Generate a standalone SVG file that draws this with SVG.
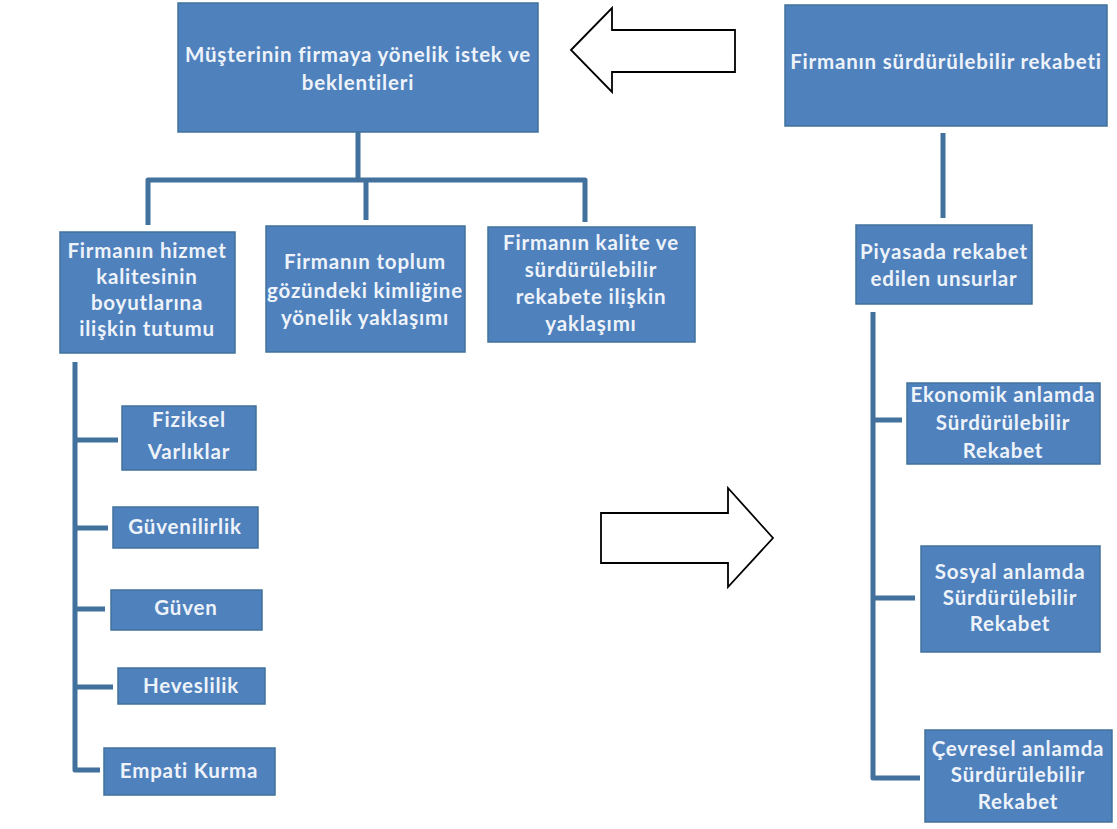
<svg xmlns="http://www.w3.org/2000/svg" width="1117" height="829" viewBox="0 0 1117 829">
<style>
.box{fill:#4F81BD;stroke:#41719C;stroke-width:1.5}
.t{fill:#EEF3FA;font-family:Lato,"Open Sans","Liberation Sans",sans-serif;font-weight:700;font-size:20.5px;letter-spacing:0.8px;text-anchor:middle}
.c{fill:none;stroke:#41719C;stroke-width:5;stroke-linejoin:round}
.arr{fill:#FFFFFF;stroke:#000000;stroke-width:1.8}
</style>
<rect width="1117" height="829" fill="#FFFFFF"/>
<g id="connectors">
<path class="c" d="M358,132 V180"/>
<path class="c" d="M148,225 V180 H585 V222"/>
<path class="c" d="M366,180 V220"/>
<path class="c" d="M75,362 V770 H100"/>
<path class="c" d="M75,440 H118"/>
<path class="c" d="M75,528 H108"/>
<path class="c" d="M75,609 H105"/>
<path class="c" d="M75,687 H113"/>
<path class="c" d="M943,133 V218"/>
<path class="c" d="M873,312 V778 H920"/>
<path class="c" d="M873,420 H902"/>
<path class="c" d="M873,598 H915"/>
</g>
<g id="arrow-left"><polygon class="arr" points="571,50 612,8 612,30 735,30 735,72 612,72 612,92"/></g>
<g id="arrow-right"><polygon class="arr" points="601,513 728,513 728,488 773,538 728,587 728,563 601,563"/></g>
<g id="n-musteri"><rect class="box" x="178" y="3" width="360" height="129"/>
<text class="t" x="358" y="62">Müşterinin firmaya yönelik istek ve</text>
<text class="t" x="358" y="90">beklentileri</text></g>
<g id="n-rekabet"><rect class="box" x="785" y="5" width="322" height="121"/>
<text class="t" x="946" y="69">Firmanın sürdürülebilir rekabeti</text></g>
<g id="n-hizmet"><rect class="box" x="60" y="232" width="175" height="121"/>
<text class="t" x="147" y="258">Firmanın hizmet</text>
<text class="t" x="147" y="284">kalitesinin</text>
<text class="t" x="147" y="310">boyutlarına</text>
<text class="t" x="147" y="336">ilişkin tutumu</text></g>
<g id="n-toplum"><rect class="box" x="266" y="226" width="199" height="126"/>
<text class="t" x="365" y="269">Firmanın toplum</text>
<text class="t" x="365" y="298">gözündeki kimliğine</text>
<text class="t" x="365" y="325">yönelik yaklaşımı</text></g>
<g id="n-kalite"><rect class="box" x="488" y="227" width="207" height="115"/>
<text class="t" x="591" y="250">Firmanın kalite  ve</text>
<text class="t" x="591" y="277">sürdürülebilir</text>
<text class="t" x="591" y="304">rekabete ilişkin</text>
<text class="t" x="591" y="331">yaklaşımı</text></g>
<g id="n-fiziksel"><rect class="box" x="122" y="406" width="134" height="64"/>
<text class="t" x="189" y="427">Fiziksel</text>
<text class="t" x="189" y="459">Varlıklar</text></g>
<g id="n-guvenilirlik"><rect class="box" x="113" y="507" width="145" height="41"/>
<text class="t" x="185" y="534">Güvenilirlik</text></g>
<g id="n-guven"><rect class="box" x="111" y="590" width="151" height="40"/>
<text class="t" x="186" y="615">Güven</text></g>
<g id="n-heveslilik"><rect class="box" x="118" y="668" width="147" height="36"/>
<text class="t" x="191" y="693">Heveslilik</text></g>
<g id="n-empati"><rect class="box" x="104" y="748" width="171" height="47"/>
<text class="t" x="189" y="778">Empati Kurma</text></g>
<g id="n-piyasa"><rect class="box" x="856" y="225" width="176" height="79"/>
<text class="t" x="944" y="259">Piyasada rekabet</text>
<text class="t" x="944" y="286">edilen unsurlar</text></g>
<g id="n-ekonomik"><rect class="box" x="907" y="383" width="193" height="81"/>
<text class="t" x="1003" y="402">Ekonomik anlamda</text>
<text class="t" x="1003" y="430">Sürdürülebilir</text>
<text class="t" x="1003" y="458">Rekabet</text></g>
<g id="n-sosyal"><rect class="box" x="921" y="546" width="179" height="106"/>
<text class="t" x="1010" y="579">Sosyal anlamda</text>
<text class="t" x="1010" y="605">Sürdürülebilir</text>
<text class="t" x="1010" y="631">Rekabet</text></g>
<g id="n-cevresel"><rect class="box" x="925" y="730" width="187" height="92"/>
<text class="t" x="1018" y="756">Çevresel anlamda</text>
<text class="t" x="1018" y="782">Sürdürülebilir</text>
<text class="t" x="1018" y="809">Rekabet</text></g>
</svg>
